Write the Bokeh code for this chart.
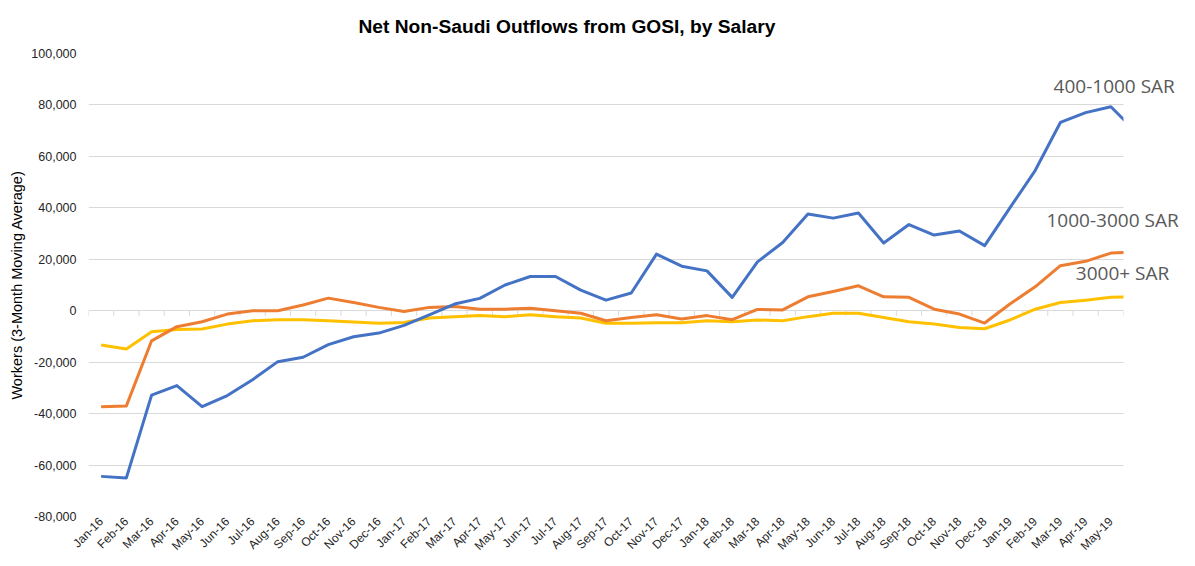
from math import pi
from bokeh.plotting import figure
from bokeh.models import Range1d, FixedTicker, NumeralTickFormatter, Label
from bokeh.embed import file_html
from bokeh.resources import INLINE

months = ["Jan-16", "Feb-16", "Mar-16", "Apr-16", "May-16", "Jun-16", "Jul-16", "Aug-16",
          "Sep-16", "Oct-16", "Nov-16", "Dec-16",
          "Jan-17", "Feb-17", "Mar-17", "Apr-17", "May-17", "Jun-17", "Jul-17", "Aug-17",
          "Sep-17", "Oct-17", "Nov-17", "Dec-17",
          "Jan-18", "Feb-18", "Mar-18", "Apr-18", "May-18", "Jun-18", "Jul-18", "Aug-18",
          "Sep-18", "Oct-18", "Nov-18", "Dec-18",
          "Jan-19", "Feb-19", "Mar-19", "Apr-19", "May-19", "Jun-19"]

sal_400_1000 = [-64400, -65000, -32800, -29100, -37300, -33000, -26800, -19800, -18100, -13200,
                -10100, -8700,
                -5700, -1600, 2600, 4800, 10000, 13300, 13300, 8000, 4100, 6900, 22000, 17300,
                15500, 5200, 19000, 26500, 37600, 36000, 38000, 26300, 33500, 29400, 31000, 25300,
                40000, 54500, 73200, 77000, 79300, 69500]

sal_1000_3000 = [-37300, -37000, -11700, -6200, -4300, -1300, 0, 0, 2200, 4900, 3200, 1300,
                 -300, 1300, 1600, 600, 600, 1000, 0, -1000, -3900, -2600, -1600, -3200,
                 -1900, -3500, 500, 300, 5400, 7500, 9700, 5400, 5200, 600, -1300, -4800,
                 2600, 9300, 17500, 19200, 22400, 22800]

sal_3000_plus = [-13300, -14900, -8200, -7300, -7100, -5200, -3900, -3500, -3500, -3900, -4400, -4900,
                 -4600, -2800, -2300, -1900, -2300, -1600, -2300, -2800, -4900, -4900, -4700, -4700,
                 -3900, -4300, -3600, -3900, -2300, -1000, -1000, -2600, -4300, -5200, -6500, -7000,
                 -3600, 600, 3200, 4100, 5200, 5400]

y_ticks = [-80000, -60000, -40000, -20000, 0, 20000, 40000, 60000, 80000, 100000]

n_shown = 41  # Jan-16 .. May-19 labelled; Jun-19 runs off the plot edge
x = list(range(len(months)))

W, H = 1179, 560
BL, BT, BB = 88, 53, 44
plot_px = 1035            # width of the visible plot area
frame_px = W - BL         # frame extends to the right edge so labels are not clipped
x_end = -0.5 + n_shown * frame_px / plot_px

p = figure(width=W, height=H, output_backend="svg", toolbar_location=None,
           x_range=Range1d(-0.5, x_end), y_range=Range1d(y_ticks[0], y_ticks[-1]),
           min_border_left=BL, min_border_right=0, min_border_top=BT, min_border_bottom=BB)

p.title.text = "Net Non-Saudi Outflows from GOSI, by Salary"
p.title.align = "left"
p.title.vertical_align = "top"
p.title.offset = 270
p.title.text_font = "Liberation Sans"
p.title.text_font_style = "bold"
p.title.text_font_size = "19.2px"
p.title.text_color = "#000000"
p.title.standoff = 29

p.outline_line_color = None
p.background_fill_color = "white"
p.border_fill_color = "white"

p.xgrid.grid_line_color = None
p.ygrid.ticker = FixedTicker(ticks=y_ticks)
p.ygrid.grid_line_color = "#d9d9d9"
p.ygrid.grid_line_width = 1

p.yaxis.ticker = FixedTicker(ticks=y_ticks)
p.yaxis.formatter = NumeralTickFormatter(format="0,0")
p.yaxis.axis_line_color = None
p.yaxis.major_tick_line_color = None
p.yaxis.minor_tick_line_color = None
p.yaxis.major_tick_out = 0
p.yaxis.minor_tick_out = 0
p.yaxis.major_label_text_font = "Liberation Sans"
p.yaxis.major_label_text_font_size = "12.5px"
p.yaxis.major_label_text_color = "#262626"
p.yaxis.major_label_standoff = 12
p.yaxis.axis_label = "Workers (3-Month Moving Average)"
p.yaxis.axis_label_text_font = "Liberation Sans"
p.yaxis.axis_label_text_font_style = "normal"
p.yaxis.axis_label_text_font_size = "14.5px"
p.yaxis.axis_label_text_color = "#000000"
p.yaxis.axis_label_standoff = 3

p.xaxis.ticker = FixedTicker(ticks=x[:n_shown])
p.xaxis.major_label_overrides = {i: months[i] for i in range(n_shown)}
p.xaxis.major_label_orientation = pi / 4
p.xaxis.axis_line_color = None
p.xaxis.major_tick_line_color = None
p.xaxis.minor_tick_line_color = None
p.xaxis.major_tick_out = 0
p.xaxis.minor_tick_out = 0
p.xaxis.major_label_text_font = "Liberation Sans"
p.xaxis.major_label_text_font_size = "12px"
p.xaxis.major_label_text_color = "#262626"
p.xaxis.major_label_standoff = 3

# category-boundary tick marks hanging under the zero line
bounds = [i - 0.5 for i in range(n_shown + 1)]
p.segment(x0=bounds, y0=[0] * len(bounds), x1=bounds, y1=[-2000] * len(bounds),
          line_color="#d9d9d9", line_width=1)

p.line(x, sal_3000_plus, line_color="#FFC000", line_width=3, line_join="round")
p.line(x, sal_1000_3000, line_color="#ED7D31", line_width=3, line_join="round")
p.line(x, sal_400_1000, line_color="#4472C4", line_width=3, line_join="round")

# blank out everything right of the plot area (the series run past it, as in the original)
p.quad(left=[n_shown - 0.5], right=[x_end + 1], bottom=[y_ticks[0] - 5000], top=[y_ticks[-1] + 5000],
       fill_color="white", line_color=None)

lab_style = dict(text_font="Open Sans", text_font_size="19px", text_color="#595959",
                 text_baseline="alphabetic", text_align="left")
p.add_layout(Label(x=37.73, y=87200, text="400-1000 SAR", **lab_style))
p.add_layout(Label(x=37.45, y=35300, text="1000-3000 SAR", **lab_style))
p.add_layout(Label(x=38.61, y=14500, text="3000+ SAR", **lab_style))

open("out.html", "w").write(file_html(p, INLINE))
